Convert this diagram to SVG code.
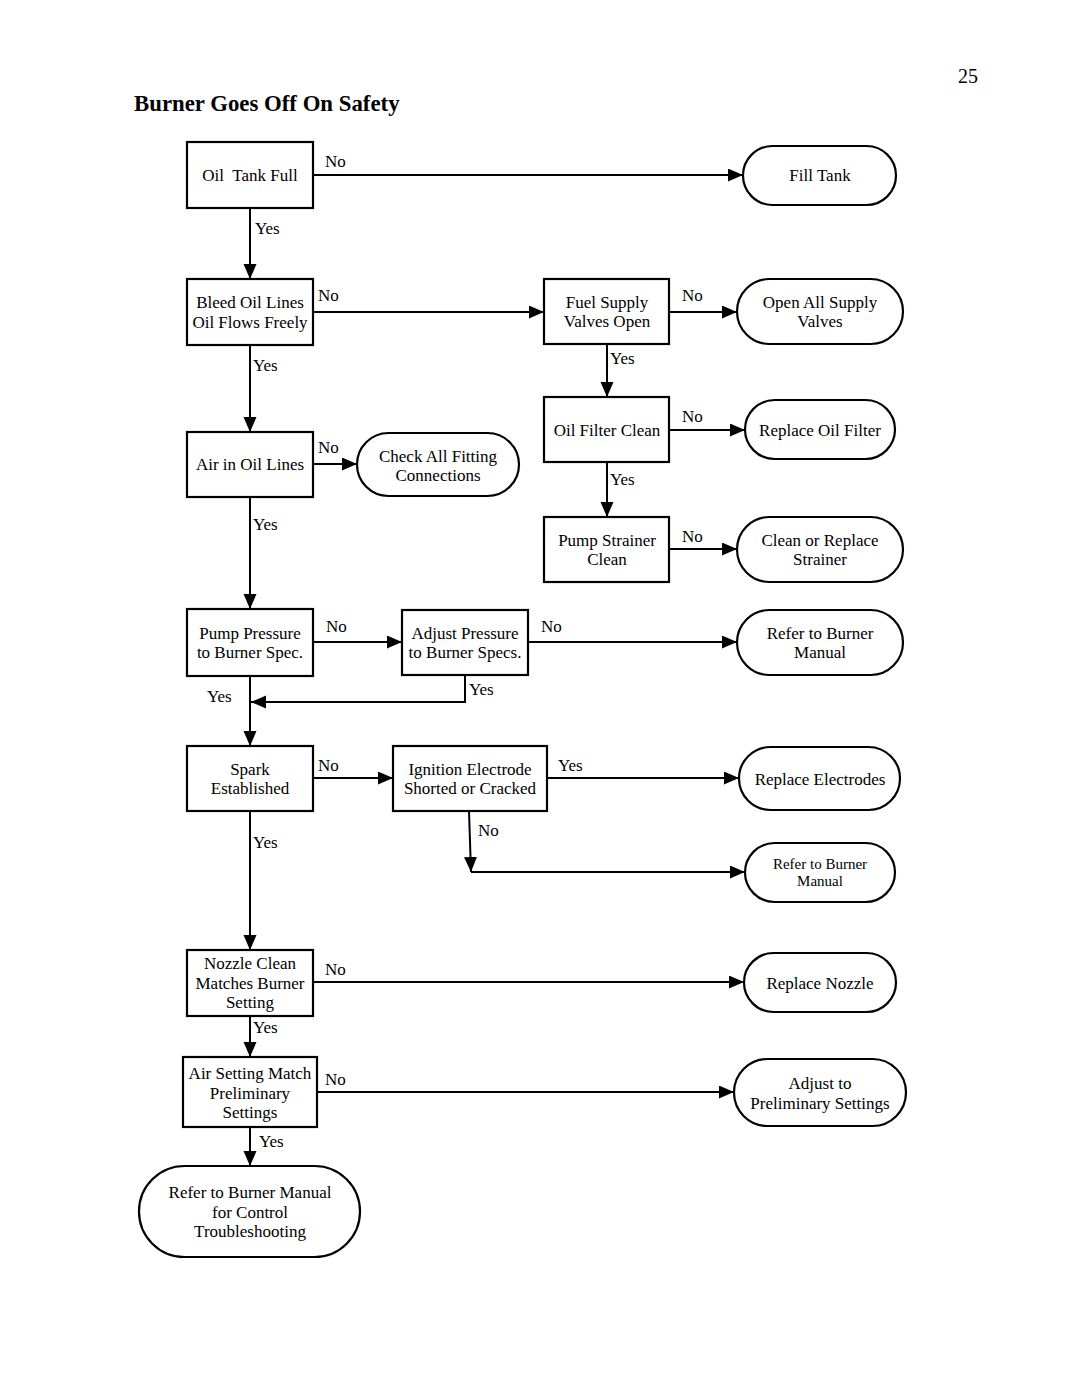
<svg xmlns="http://www.w3.org/2000/svg" width="1080" height="1397" viewBox="0 0 1080 1397">
<defs>
<style>
.b{fill:#fff;stroke:#000;stroke-width:2.2}
.t{font-family:"Liberation Serif","Times New Roman",serif;font-size:17px;fill:#000;text-anchor:middle}
.s{font-size:15px}
.l{font-family:"Liberation Serif","Times New Roman",serif;font-size:17px;fill:#000}
.c{fill:none;stroke:#000;stroke-width:2;marker-end:url(#a)}
</style>
<marker id="a" markerUnits="userSpaceOnUse" markerWidth="16" markerHeight="14" refX="15" refY="6.5" orient="auto">
<path d="M0,0 L15,6.5 L0,13 z" fill="#000"/>
</marker>
</defs>
<rect width="1080" height="1397" fill="#fff"/>
<text x="134" y="111" font-family="'Liberation Serif','Times New Roman',serif" font-size="22.8" font-weight="bold">Burner Goes Off On Safety</text>
<text x="958" y="83" font-family="'Liberation Serif','Times New Roman',serif" font-size="20">25</text>

<g id="connectors">
<line class="c" x1="313" y1="175" x2="743" y2="175"/>
<line class="c" x1="250" y1="208" x2="250" y2="279"/>
<line class="c" x1="313" y1="312" x2="544" y2="312"/>
<line class="c" x1="250" y1="345" x2="250" y2="432"/>
<line class="c" x1="669" y1="312" x2="737" y2="312"/>
<line class="c" x1="607" y1="344" x2="607" y2="397"/>
<line class="c" x1="669" y1="430" x2="745" y2="430"/>
<line class="c" x1="607" y1="462" x2="607" y2="517"/>
<line class="c" x1="669" y1="549" x2="737" y2="549"/>
<line class="c" x1="313" y1="464" x2="357" y2="464"/>
<line class="c" x1="250" y1="497" x2="250" y2="609"/>
<line class="c" x1="313" y1="642" x2="402" y2="642"/>
<line class="c" x1="528" y1="642" x2="737" y2="642"/>
<path class="c" d="M465,675 V702 H251"/>
<line class="c" x1="250" y1="676" x2="250" y2="746"/>
<line class="c" x1="313" y1="778" x2="393" y2="778"/>
<line class="c" x1="547" y1="778" x2="739" y2="778"/>
<line class="c" x1="469" y1="811" x2="471" y2="872"/>
<line class="c" x1="471" y1="872" x2="745" y2="872"/>
<line class="c" x1="250" y1="811" x2="250" y2="950"/>
<line class="c" x1="313" y1="982" x2="744" y2="982"/>
<line class="c" x1="250" y1="1016" x2="250" y2="1057"/>
<line class="c" x1="317" y1="1092" x2="734" y2="1092"/>
<line class="c" x1="250" y1="1127" x2="250" y2="1166"/>
<text class="l" x="325" y="167">No</text>
<text class="l" x="255" y="234">Yes</text>
<text class="l" x="318" y="301">No</text>
<text class="l" x="253" y="371">Yes</text>
<text class="l" x="682" y="301">No</text>
<text class="l" x="610" y="364">Yes</text>
<text class="l" x="682" y="422">No</text>
<text class="l" x="610" y="485">Yes</text>
<text class="l" x="682" y="542">No</text>
<text class="l" x="318" y="453">No</text>
<text class="l" x="253" y="530">Yes</text>
<text class="l" x="326" y="632">No</text>
<text class="l" x="541" y="632">No</text>
<text class="l" x="469" y="695">Yes</text>
<text class="l" x="207" y="702">Yes</text>
<text class="l" x="318" y="771">No</text>
<text class="l" x="558" y="771">Yes</text>
<text class="l" x="478" y="836">No</text>
<text class="l" x="253" y="848">Yes</text>
<text class="l" x="325" y="975">No</text>
<text class="l" x="253" y="1033">Yes</text>
<text class="l" x="325" y="1085">No</text>
<text class="l" x="259" y="1147">Yes</text>
</g>

<g id="oil-tank-full"><rect class="b" x="187" y="142" width="126" height="66"/><text class="t" x="250" y="181" style="white-space:pre">Oil  Tank Full</text></g>
<g id="fill-tank"><rect class="b" x="743" y="146" width="153" height="59" rx="29.5"/><text class="t" x="820" y="181">Fill Tank</text></g>
<g id="bleed-oil-lines"><rect class="b" x="187" y="279" width="126" height="66"/><text class="t" x="250" y="308">Bleed Oil Lines<tspan x="250" dy="20">Oil Flows Freely</tspan></text></g>
<g id="fuel-supply"><rect class="b" x="544" y="279" width="125" height="65"/><text class="t" x="607" y="308">Fuel Supply<tspan x="607" dy="19">Valves Open</tspan></text></g>
<g id="open-valves"><rect class="b" x="737" y="279" width="166" height="65" rx="32.5"/><text class="t" x="820" y="308">Open All Supply<tspan x="820" dy="19">Valves</tspan></text></g>
<g id="oil-filter"><rect class="b" x="544" y="397" width="125" height="65"/><text class="t" x="607" y="436">Oil Filter Clean</text></g>
<g id="replace-filter"><rect class="b" x="745" y="400" width="150" height="59" rx="29.5"/><text class="t" x="820" y="436">Replace Oil Filter</text></g>
<g id="air-in-oil"><rect class="b" x="187" y="432" width="126" height="65"/><text class="t" x="250" y="470">Air in Oil Lines</text></g>
<g id="check-fittings"><rect class="b" x="357" y="433" width="162" height="63" rx="31.5"/><text class="t" x="438" y="462">Check All Fitting<tspan x="438" dy="19">Connections</tspan></text></g>
<g id="pump-strainer"><rect class="b" x="544" y="517" width="125" height="65"/><text class="t" x="607" y="546">Pump Strainer<tspan x="607" dy="19">Clean</tspan></text></g>
<g id="clean-strainer"><rect class="b" x="737" y="517" width="166" height="65" rx="32.5"/><text class="t" x="820" y="546">Clean or Replace<tspan x="820" dy="19">Strainer</tspan></text></g>
<g id="pump-pressure"><rect class="b" x="187" y="609" width="126" height="67"/><text class="t" x="250" y="639">Pump Pressure<tspan x="250" dy="19">to Burner Spec.</tspan></text></g>
<g id="adjust-pressure"><rect class="b" x="402" y="610" width="126" height="65"/><text class="t" x="465" y="639">Adjust Pressure<tspan x="465" dy="19">to Burner Specs.</tspan></text></g>
<g id="refer-manual-1"><rect class="b" x="737" y="610" width="166" height="65" rx="32.5"/><text class="t" x="820" y="639">Refer to Burner<tspan x="820" dy="19">Manual</tspan></text></g>
<g id="spark"><rect class="b" x="187" y="746" width="126" height="65"/><text class="t" x="250" y="775">Spark<tspan x="250" dy="19">Established</tspan></text></g>
<g id="ignition"><rect class="b" x="393" y="746" width="154" height="65"/><text class="t" x="470" y="775">Ignition Electrode<tspan x="470" dy="19">Shorted or Cracked</tspan></text></g>
<g id="replace-electrodes"><rect class="b" x="739" y="747" width="161" height="63" rx="31.5"/><text class="t" x="820" y="785">Replace Electrodes</text></g>
<g id="refer-manual-2"><rect class="b" x="745" y="843" width="150" height="59" rx="29.5"/><text class="t s" x="820" y="869">Refer to Burner<tspan x="820" dy="17">Manual</tspan></text></g>
<g id="nozzle"><rect class="b" x="187" y="950" width="126" height="66"/><text class="t" x="250" y="969">Nozzle Clean<tspan x="250" dy="19.5">Matches Burner</tspan><tspan x="250" dy="19.5">Setting</tspan></text></g>
<g id="replace-nozzle"><rect class="b" x="744" y="953" width="152" height="59" rx="29.5"/><text class="t" x="820" y="989">Replace Nozzle</text></g>
<g id="air-setting"><rect class="b" x="183" y="1057" width="134" height="70"/><text class="t" x="250" y="1079">Air Setting Match<tspan x="250" dy="19.5">Preliminary</tspan><tspan x="250" dy="19.5">Settings</tspan></text></g>
<g id="adjust-settings"><rect class="b" x="734" y="1059" width="172" height="67" rx="33.5"/><text class="t" x="820" y="1089">Adjust to<tspan x="820" dy="20">Preliminary Settings</tspan></text></g>
<g id="refer-control"><rect class="b" x="139" y="1166" width="221" height="91" rx="45.5"/><text class="t" x="250" y="1198">Refer to Burner Manual<tspan x="250" dy="19.5">for Control</tspan><tspan x="250" dy="19.5">Troubleshooting</tspan></text></g>
</svg>
